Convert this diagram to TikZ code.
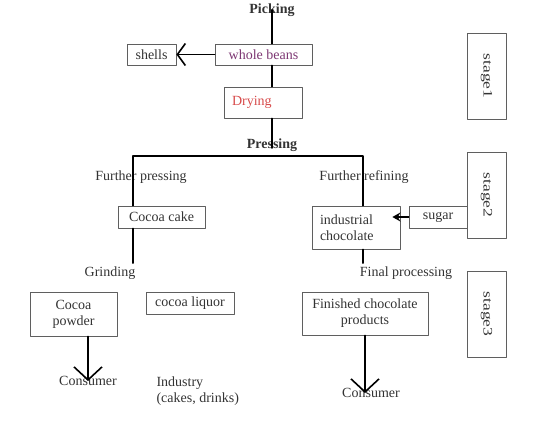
\documentclass[tikz,border=0pt]{standalone}
\usepackage{fontspec}
\setmainfont{Liberation Serif}
\usetikzlibrary{arrows.meta}
\definecolor{beanpurple}{RGB}{125,55,115}
\definecolor{dryred}{RGB}{215,75,75}
\definecolor{boxgray}{RGB}{95,95,95}
\begin{document}
\begin{tikzpicture}[x=1pt, y=-1pt, font=\fontsize{14}{16}\selectfont, line join=round, line cap=round,
	box/.style={draw=boxgray, line width=0.8pt, inner sep=0pt, text=black!80},
	link/.style={line width=1.6pt},
	openhead/.style={-{Straight Barb[length=13pt,width=28pt,line width=1.6pt]}},
	lbl/.style={text=black!80}]
	\useasboundingbox (0,0) rectangle (554,431);
	% stage one
	\node[lbl, font=\fontsize{14}{16}\selectfont\bfseries] (picking) at (272,10) {Picking};
	\node[box, minimum width=97pt, minimum height=21pt, text=beanpurple] (beans) at (263.5,54.5) {whole beans};
	\node[box, minimum width=49pt, minimum height=21pt] (shells) at (151.5,54.5) {shells};
	\node[box, minimum height=31pt, text width=62pt, inner xsep=8pt, align=left, text=dryred] (drying) at (263,102.5) {Drying\\[2pt]};
	\node[lbl, font=\fontsize{14}{16}\selectfont\bfseries] (pressing) at (272,145) {Pressing};
	\draw[link] (picking.center) -- (picking |- beans.north);
	\draw[link] (picking |- beans.south) -- (picking |- drying.north);
	\draw[link] (picking |- drying.south) -- ([yshift=-3pt]pressing.center);
	\draw[line width=1.6pt, -{Straight Barb[length=8pt,width=22pt,line width=1.6pt]}] (beans.west) -- (shells.east);
	% stage two
	\coordinate (splitL) at (133,156);
	\coordinate (splitR) at (363,156);
	\node[lbl] (furtherpress) at (141,177) {Further pressing};
	\node[lbl] (furtherrefine) at (364,177) {Further refining};
	\node[box, minimum width=87pt, minimum height=22pt] (cake) at (161.5,217) {Cocoa cake};
	\node[box, minimum height=43pt, text width=72pt, inner xsep=8pt, align=left] (indchoc) at (356,227.5) {industrial\\chocolate};
	\node[box, minimum width=58pt, minimum height=22pt] (sugar) at (438,217) {sugar};
	\node[lbl] (grinding) at (110,273) {Grinding};
	\node[lbl] (finalproc) at (406,273) {Final processing};
	\draw[link] (splitL |- cake.north) -- (splitL) -- (splitR) -- (splitR |- indchoc.north);
	\draw[link] (splitL |- cake.south) -- (splitL |- grinding.north);
	\draw[link] (splitR |- indchoc.south) -- (splitR |- finalproc.north);
	\draw[line width=1.6pt, -{Stealth[length=8pt,width=9pt]}] (sugar.west) -- ([xshift=-8pt]sugar.west -| indchoc.east);
	% stage three
	\node[box, minimum width=87pt, minimum height=44pt, align=center] (powder) at (73.5,314) {Cocoa\\powder};
	\node[box, minimum width=88pt, minimum height=22pt] (liquor) at (190,303) {cocoa liquor};
	\node[box, minimum width=126pt, minimum height=43pt, align=center] (finished) at (365,313.5) {Finished chocolate\\products};
	\node[lbl] (consumerA) at (88,381) {Consumer};
	\node[lbl, align=left, anchor=west] (industry) at (153,391) {Industry\\(cakes, drinks)};
	\node[lbl] (consumerB) at (371,393) {Consumer};
	\draw[link, openhead] (consumerA.center |- powder.south) -- (consumerA.center);
	\draw[link, openhead] (finished.south) -- (finished.south |- consumerB.center);
	% stages
	\foreach \n/\y in {1/76,2/195,3/314}
		\node[box, minimum width=39pt, minimum height=86pt, font=\fontsize{13}{15}\selectfont] (stage\n) at (486.5,\y) {\rotatebox{-90}{\scalebox{1.35}[1]{stage\n}}};
\end{tikzpicture}
\end{document}
